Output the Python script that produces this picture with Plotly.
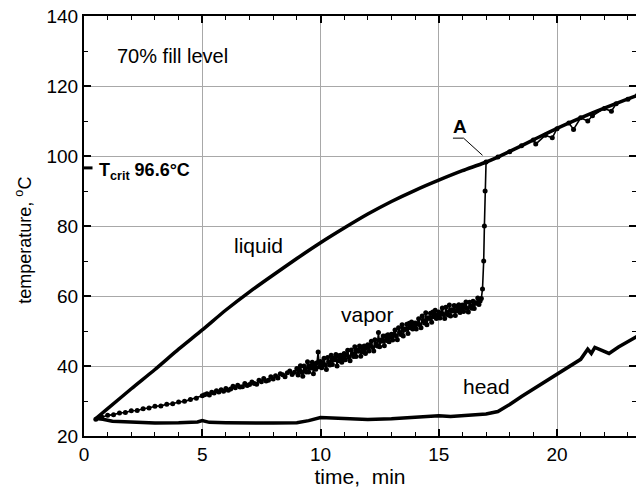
import plotly.graph_objects as go

# ---------------- data ----------------
liquid_t = [0.5, 1.0, 2.0, 3.0, 4.0, 5.0, 6.0, 7.0, 8.0, 9.0, 10.0, 11.0, 12.0, 13.0,
            14.0, 15.0, 16.0, 16.9, 17.5, 18.0, 19.0, 20.0, 21.0, 22.0, 23.0, 23.4]
liquid_T = [25.0, 27.8, 33.5, 39.0, 44.8, 50.3, 56.0, 61.2, 66.0, 70.7, 75.2, 79.4, 83.4, 87.0,
            90.2, 93.1, 95.8, 98.0, 99.7, 101.3, 104.6, 107.9, 110.9, 113.7, 116.3, 117.3]

head_t = [0.5, 0.8, 1.2, 2.0, 3.0, 4.0, 4.8, 5.0, 5.3, 6.0, 7.0, 8.0, 9.0, 9.5, 10.0, 10.5,
          11.0, 12.0, 13.0, 14.0, 15.0, 15.5, 16.0, 16.5, 17.0, 17.5, 18.0, 18.5, 19.0, 19.5,
          20.0, 20.5, 21.0, 21.3, 21.45, 21.6, 22.0, 22.2, 22.6, 23.0, 23.4]
head_T = [25.0, 24.8, 24.2, 23.9, 23.7, 23.8, 24.0, 24.4, 23.9, 23.8, 23.7, 23.7, 23.8, 24.4, 25.3, 25.2,
          25.0, 24.7, 24.9, 25.4, 25.8, 25.6, 25.8, 26.0, 26.3, 27.0, 29.0, 31.3, 33.4, 35.5,
          37.5, 39.6, 41.9, 44.8, 43.6, 45.3, 44.0, 43.6, 45.4, 47.0, 48.5]

vapor_t_early = [0.5, 0.75, 1.0, 1.25, 1.5, 1.75, 2.0, 2.25, 2.5, 2.75, 3.0, 3.25, 3.5,
                 3.75, 4.0, 4.25, 4.5, 4.75]
vapor_T_early = [24.8, 25.4, 25.9, 26.1, 26.6, 26.7, 27.2, 27.3, 27.8, 28.0, 28.5, 28.6, 29.1,
                 29.2, 29.7, 29.9, 30.4, 30.8]

# sampled every 0.1 min from 5.0 to 8.9 min
vapor_T_mid = [
    31.5, 31.8, 32.1, 31.7, 32.5, 32.3, 32.9, 32.6, 33.2, 32.8,
    33.6, 33.1, 33.4, 34.2, 33.8, 34.5, 34.0, 34.1, 35.0, 34.4,
    34.7, 35.4, 35.0, 34.8, 35.9, 35.5, 36.4, 35.7, 35.9, 36.9,
    36.3, 37.2, 36.6, 37.8, 37.5, 36.9, 38.1, 38.6, 37.6, 38.2,
]
vapor_t_mid = [round(5.0 + 0.1 * i, 2) for i in range(len(vapor_T_mid))]

# sampled every 0.05 min from 9.0 to 16.8 min
vapor_T_noisy = [
    39.3, 37.4, 38.9, 40.1, 38.2, 37.1, 40.0, 38.9, 38.3, 41.2,
    38.3, 40.1, 39.4, 41.1, 37.8, 40.6, 39.1, 40.9, 44.0, 39.8,
    41.3, 39.5, 40.9, 42.2, 40.2, 39.0, 42.4, 41.2, 40.3, 43.1,
    40.4, 42.2, 41.8, 43.3, 40.0, 42.9, 41.5, 43.1, 41.1, 42.6,
    43.6, 41.8, 43.2, 44.5, 42.6, 41.5, 44.6, 43.4, 42.7, 45.5,
    42.7, 44.6, 44.2, 45.7, 42.8, 45.4, 44.0, 45.7, 43.6, 45.3,
    46.1, 44.3, 45.9, 47.1, 45.3, 44.3, 47.5, 46.3, 45.7, 49.6,
    45.5, 47.4, 47.1, 48.6, 45.8, 48.6, 47.3, 48.9, 46.9, 48.3,
    49.1, 47.4, 49.0, 50.3, 48.6, 47.5, 50.9, 49.6, 49.0, 51.8,
    48.6, 50.6, 50.4, 51.9, 49.3, 52.2, 50.9, 52.6, 50.6, 51.5,
    52.3, 50.6, 52.1, 53.5, 51.8, 50.9, 54.3, 52.9, 52.3, 55.2,
    51.8, 53.8, 53.6, 55.1, 52.5, 55.4, 54.1, 55.9, 53.6, 54.6,
    55.4, 53.7, 55.0, 56.6, 54.7, 53.6, 56.8, 55.3, 54.6, 57.4,
    54.3, 56.1, 55.7, 57.3, 54.4, 57.1, 55.8, 57.5, 55.3, 56.4,
    57.4, 55.6, 57.0, 58.3, 56.4, 55.4, 58.2, 57.1, 56.5, 58.5,
    56.4, 58.1, 57.9, 59.4, 57.6, 58.6, 59.3,
]
vapor_t_noisy = [round(9.0 + 0.05 * i, 2) for i in range(len(vapor_T_noisy))]

vapor_t_late = [16.85, 16.9, 16.93, 16.96, 17.0, 17.5, 18.0, 18.5, 19.0, 19.1, 19.5, 19.8,
                20.0, 20.5, 20.7, 21.0, 21.3, 21.5, 22.0, 22.3, 22.5, 23.0, 23.4]
vapor_T_late = [62.0, 70.0, 80.0, 90.0, 98.3, 99.7, 101.2, 102.9, 104.6, 103.4, 105.9, 105.2,
                107.8, 109.4, 107.6, 110.9, 110.0, 111.5, 113.6, 112.8, 114.9, 116.2, 117.3]

vapor_t = vapor_t_early + vapor_t_mid + vapor_t_noisy + vapor_t_late
vapor_T = vapor_T_early + vapor_T_mid + vapor_T_noisy + vapor_T_late

x_ticks = [0, 5, 10, 15, 20]
y_ticks = [20, 40, 60, 80, 100, 120, 140]
T_crit = 96.6

FONT = "Liberation Sans, Arial, sans-serif"

fig = go.Figure()
fig.add_trace(go.Scatter(x=vapor_t, y=vapor_T, mode="lines+markers",
                         line=dict(color="black", width=1.6),
                         marker=dict(color="black", size=5), showlegend=False))
fig.add_trace(go.Scatter(x=liquid_t, y=liquid_T, mode="lines",
                         line=dict(color="black", width=3.5, shape="spline", smoothing=0.6),
                         showlegend=False))
fig.add_trace(go.Scatter(x=head_t, y=head_T, mode="lines",
                         line=dict(color="black", width=3.5), showlegend=False))

# annotations
ann_font = dict(family=FONT, size=21, color="black")
fig.add_annotation(x=1.3, y=128.6, text="70% fill level", showarrow=False,
                   xanchor="left", yanchor="middle", font=dict(family=FONT, size=20, color="black"))
fig.add_annotation(x=0.55, y=95.6, text="<b>T<sub>crit</sub> 96.6°C</b>", showarrow=False,
                   xanchor="left", yanchor="middle", font=dict(family=FONT, size=18, color="black"))
fig.add_annotation(x=15.9, y=108.3, text="<b>A</b>", showarrow=False,
                   xanchor="center", yanchor="middle", font=dict(family=FONT, size=19, color="black"))
fig.add_annotation(x=7.36, y=74.3, text="liquid", showarrow=False, font=ann_font)
fig.add_annotation(x=12.0, y=54.6, text="vapor", showarrow=False, font=ann_font)
fig.add_annotation(x=17.0, y=34.1, text="head", showarrow=False, font=ann_font)

# y-axis title (placed as a rotated annotation to match the reference position)
fig.add_annotation(x=-0.109, y=0.467, xref="paper", yref="paper", textangle=-90,
                   text="temperature, <sup>o</sup>C", showarrow=False,
                   xanchor="center", yanchor="middle", font=dict(family=FONT, size=18, color="black"))

# T_crit marker on the left axis
fig.add_shape(type="line", x0=0, x1=0.36, y0=T_crit, y1=T_crit,
              line=dict(color="black", width=3), xref="x", yref="y")
# leader line for point A
fig.add_shape(type="path", path="M 15.6 105.1 L 16.05 105.1 L 16.85 100.2",
              line=dict(color="black", width=1), xref="x", yref="y")

axis_common = dict(
    showline=True, linecolor="black", linewidth=2, mirror="ticks",
    ticks="inside", ticklen=7, tickwidth=1.5, tickcolor="black",
    showgrid=True, gridcolor="#a8a8a8", gridwidth=1, zeroline=False,
    tickfont=dict(family=FONT, size=19, color="black"), automargin=False,
    tickmode="linear", ticklabeloverflow="allow",
)

fig.update_xaxes(range=[0, 23.34], tick0=x_ticks[0], dtick=x_ticks[1] - x_ticks[0], **axis_common,
                 minor=dict(ticks="inside", ticklen=4, dtick=1, tick0=0, tickcolor="black",
                            tickwidth=1.2, showgrid=False),
                 title=dict(text="time,\u00a0 min", font=dict(family=FONT, size=21, color="black"), standoff=5))
fig.update_yaxes(range=[20, 140], tick0=y_ticks[0], dtick=y_ticks[1] - y_ticks[0], **axis_common,
                 minor=dict(ticks="inside", ticklen=4, dtick=10, tick0=0, tickcolor="black",
                            tickwidth=1.2, showgrid=False))

fig.update_layout(width=636, height=500, margin=dict(l=84, r=0, t=16, b=64),
                  plot_bgcolor="white", paper_bgcolor="white", showlegend=False)

# remove the default 8 px page margin so the figure fills the 636x500 window exactly
fig.write_html("out.html", config={"displayModeBar": False},
               post_script="document.body.style.margin='0';")
